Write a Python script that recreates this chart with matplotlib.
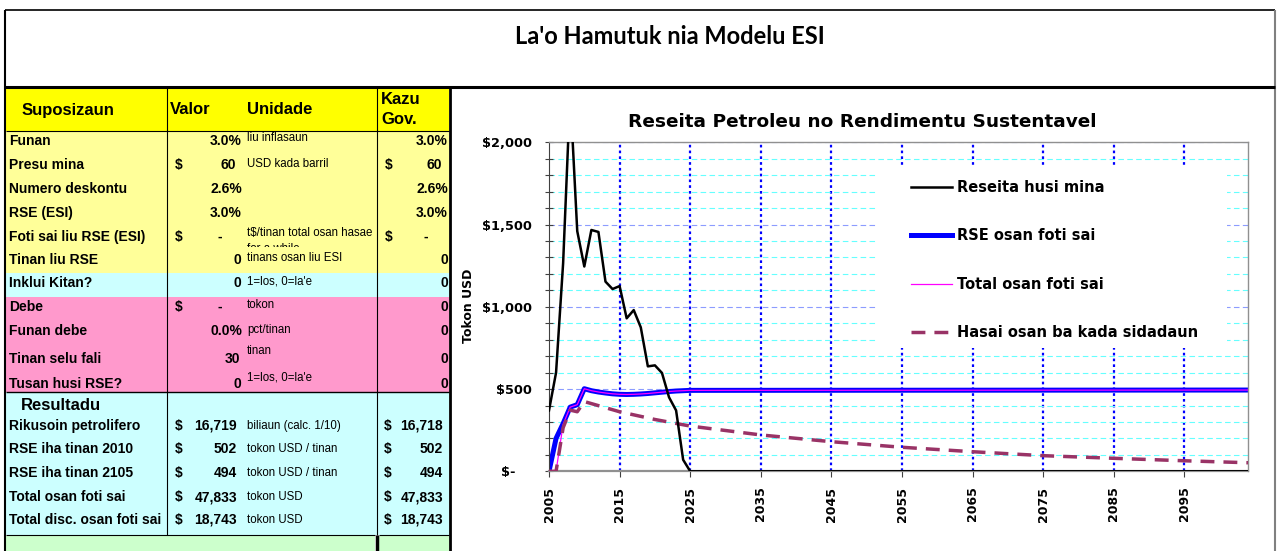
import matplotlib
matplotlib.use("Agg")
import matplotlib.pyplot as plt
from matplotlib.patches import Rectangle
from matplotlib.ticker import MultipleLocator
from matplotlib.transforms import Bbox, TransformedBbox, ScaledTranslation

# ---- chart data ----
mina_years = list(range(2005, 2026)) + [2104]
mina = [370, 600, 1265, 2300, 1460, 1245, 1467, 1455, 1153, 1108, 1126,
        930, 980, 875, 638, 644, 598, 450, 370, 70, 0, 0]

rse_years = list(range(2005, 2026)) + [2104]
rse = [0, 200, 290, 390, 405, 502, 490, 482, 476, 471, 468,
       467, 468, 470, 473, 477, 481, 485, 488, 490, 492, 494]

total_years = list(range(2005, 2026)) + [2104]
total = [0, 0, 285, 390, 405, 502, 490, 482, 476, 471, 468,
         467, 468, 470, 473, 477, 481, 485, 488, 490, 492, 494]

hasai_years = [2005, 2006, 2007, 2008, 2009, 2010, 2015, 2020, 2025, 2035,
               2045, 2055, 2065, 2075, 2085, 2095, 2104]
hasai = [0, 0, 265, 372, 362, 424, 362, 315, 275, 221,
         180, 146, 119, 95, 79, 64, 52]

series_names = ["Reseita husi mina", "RSE osan foti sai",
                "Total osan foti sai", "Hasai osan ba kada sidadaun"]
year_ticks = [2005, 2015, 2025, 2035, 2045, 2055, 2065, 2075, 2085, 2095]
y_ticks = [0, 500, 1000, 1500, 2000]
y_labels = ["$-", "$500", "$1,000", "$1,500", "$2,000"]

# ---- table data ----
input_labels = ["Funan", "Presu mina", "Numero deskontu", "RSE (ESI)",
                "Foti sai liu RSE (ESI)", "Tinan liu RSE", "Inklui Kitan?",
                "Debe", "Funan debe", "Tinan selu fali", "Tusan husi RSE?"]
input_dollar = [False, True, False, False, True, False, False, True, False, False, False]
input_values = ["3.0%", "60", "2.6%", "3.0%", "-", "0", "0", "-", "0.0%", "30", "0"]
input_units = ["liu inflasaun", "USD kada barril", "", "", "t$/tinan total osan hasae",
               "tinans osan liu ESI", "1=los, 0=la'e", "tokon", "pct/tinan", "tinan",
               "1=los, 0=la'e"]
gov_dollar = [False, True, False, False, True, False, False, False, False, False, False]
gov_values = ["3.0%", "60", "2.6%", "3.0%", "-", "0", "0", "0", "0", "0", "0"]

result_labels = ["Rikusoin petrolifero", "RSE iha tinan 2010", "RSE iha tinan 2105",
                 "Total osan foti sai", "Total disc. osan foti sai"]
result_values = ["16,719", "502", "494", "47,833", "18,743"]
result_units = ["biliaun (calc. 1/10)", "tokon USD / tinan", "tokon USD / tinan",
                "tokon USD", "tokon USD"]
result_gov = ["16,718", "502", "494", "47,833", "18,743"]

W, H = 1277, 551
fig = plt.figure(figsize=(W / 100, H / 100), dpi=100)
fig.patch.set_facecolor("white")

# background axes in pixel coords (y down)
bg = fig.add_axes([0, 0, 1, 1])
bg.set_xlim(0, W)
bg.set_ylim(H, 0)
bg.axis("off")

YEL_H = "#FFFF00"
YEL = "#FFFF99"
CYAN = "#CCFFFF"
PINK = "#FF99CC"
GREEN = "#CCFFCC"


def box(x0, y0, x1, y1, color):
    bg.add_patch(Rectangle((x0, y0), x1 - x0, y1 - y0, facecolor=color,
                           edgecolor="none", zorder=1))


def line(x0, y0, x1, y1, lw=1.0, color="black"):
    bg.plot([x0, x1], [y0, y1], color=color, lw=lw, zorder=3,
            solid_capstyle="butt")


# cell fills
box(6, 88, 449, 131, YEL_H)
box(6, 131, 449, 273, YEL)
box(6, 273, 449, 297, CYAN)
box(6, 297, 449, 392, PINK)
box(6, 392, 449, 535, CYAN)
box(6, 536, 375, H, GREEN)
box(379, 536, 449, H, GREEN)

# borders
line(5, 10, 1275, 10, lw=1.2)
line(5, 10, 5, H, lw=1.5)
line(1275, 10, 1275, H, lw=1.5, color="#808080")
line(5, 87, 1275, 87, lw=2.2)
line(450, 87, 450, H, lw=2.0)
line(6, 131, 449, 131, lw=0.8)
line(6, 392, 449, 392, lw=1.0)
line(6, 535, 375, 535, lw=0.8)
line(379, 535, 449, 535, lw=0.8)
line(166.5, 88, 166.5, 535, lw=0.8)
line(377, 88, 377, 535, lw=0.8)
line(377, 535, 377, H, lw=2.5)

# title
bg.text(670, 37, "La'o Hamutuk nia Modelu ESI", ha="center", va="center",
        fontsize=17, fontweight="bold", family="Lato", zorder=4)

# header
hdr = dict(fontsize=12, fontweight="bold", family="Liberation Sans", va="center", zorder=4)
bg.text(22, 110, "Suposizaun", **hdr)
bg.text(170, 110, "Valor", **hdr)
bg.text(247, 110, "Unidade", **hdr)
bg.text(381, 100, "Kazu", **hdr)
bg.text(381, 120, "Gov.", **hdr)

lab = dict(fontsize=10, fontweight="bold", family="Liberation Sans", va="center", zorder=4)
unit = dict(fontsize=8.3, family=["Liberation Sans Narrow", "Liberation Sans"],
            va="center", zorder=4)

row_y = [141, 165, 189, 213, 237, 260, 283, 307, 331, 359, 384]
val_right = [242, 236, 242, 242, 222, 241, 241, 222, 242, 240, 241]
gov_right = [448, 442, 448, 448, 428, 448, 448, 448, 448, 448, 448]
unit_dy = [-3, -1, 0, 0, -4, -2, -1, -2, -1, -8, -7]

for i, name in enumerate(input_labels):
    y = row_y[i]
    bg.text(9, y, name, **lab)
    if input_dollar[i]:
        bg.text(175, y, "$", **lab)
    bg.text(val_right[i], y, input_values[i], ha="right", **lab)
    if input_units[i]:
        bg.text(247, y + unit_dy[i], input_units[i], **unit)
    if gov_dollar[i]:
        bg.text(385, y, "$", **lab)
    bg.text(gov_right[i], y, gov_values[i], ha="right", **lab)

# overflow text cut off by the next row
t = bg.text(247, 249, "for a while", clip_on=True, **unit)
t.set_clip_box(TransformedBbox(Bbox([[244, 226], [374, 247]]), bg.transData))

bg.text(21, 405, "Resultadu", **hdr)
res_y = [426, 449, 473, 497, 520]
runit = dict(fontsize=8.3, family="Liberation Sans", va="center", zorder=4)
for i, name in enumerate(result_labels):
    y = res_y[i]
    bg.text(9, y, name, **lab)
    bg.text(175, y, "$", **lab)
    bg.text(237, y, result_values[i], ha="right", **lab)
    bg.text(247, y, result_units[i], **runit)
    bg.text(384, y, "$", **lab)
    bg.text(443, y, result_gov[i], ha="right", **lab)

# ---- chart ----
L, R, T, B = 549, 1248, 142.3, 471.3
ax = fig.add_axes([L / W, 1 - B / H, (R - L) / W, (B - T) / H])
ax.set_xlim(2005, 2104)
ax.set_ylim(0, 2000)
ax.set_axisbelow(True)

ax.yaxis.set_major_locator(MultipleLocator(500))
ax.yaxis.set_minor_locator(MultipleLocator(100))
ax.set_yticks(y_ticks)
ax.set_yticklabels(y_labels, fontsize=9.3, fontweight="bold")
ax.set_xticks(year_ticks)
ax.set_xticklabels([str(y) for y in year_ticks], rotation=90, fontsize=9,
                   fontweight="bold")
ax.tick_params(axis="y", which="both", direction="inout", length=6, width=0.8,
               color="#404040", pad=9)
ax.tick_params(axis="x", which="major", direction="out", length=4, width=0.8,
               color="#404040", pad=7)

# accounting format: "$-" sits further left
zero_lab = ax.get_yticklabels()[0]
zero_lab.set_transform(zero_lab.get_transform()
                       + ScaledTranslation(-0.17, 0, fig.dpi_scale_trans))

ax.grid(axis="y", which="minor", color="#66FFFF", lw=0.8, linestyle=(0, (5, 3)))
ax.grid(axis="y", which="major", color="#8C9CFF", lw=0.8, linestyle=(0, (5, 3)))
ax.grid(axis="x", which="major", color="#0000FF", lw=1.6, linestyle=(0, (1.2, 1.4)))
ax.get_xgridlines()[0].set_visible(False)

for s in ["top", "right"]:
    ax.spines[s].set_color("#909090")
    ax.spines[s].set_linewidth(1.0)
ax.spines["bottom"].set_color("#909090")
ax.spines["bottom"].set_linewidth(1.6)
ax.spines["left"].set_color("#404040")
ax.spines["left"].set_linewidth(0.8)

# white legend area hides the grid
ax.add_patch(Rectangle((877 / W, 1 - 348 / H), 350 / W, 183 / H,
                       transform=fig.transFigure, facecolor="white",
                       edgecolor="none", zorder=1))

h2, = ax.plot(rse_years, rse, color="#0000FF", lw=3.6, zorder=2)
h3, = ax.plot(total_years, total, color="#FF00FF", lw=0.9, zorder=3)
h4, = ax.plot(hasai_years, hasai, color="#993366", lw=2.5, zorder=3,
              linestyle=(0, (4, 2.6)))
h1, = ax.plot(mina_years, mina, color="black", lw=1.8, zorder=4)

leg = ax.legend([h1, h2, h3, h4], series_names, loc="center left",
                bbox_to_anchor=(904 / W, 1 - 260 / H),
                bbox_transform=fig.transFigure, frameon=False,
                prop=dict(size=10.5, weight="bold"), handlelength=2.8,
                handletextpad=0.34, labelspacing=2.3, borderpad=0)

ax.set_ylabel("Tokon USD", fontsize=9, fontweight="bold")
ax.yaxis.set_label_coords((475 - L) / (R - L), (B - 306) / (B - T))

fig.text(862 / W, 1 - 122 / H, "Reseita Petroleu no Rendimentu Sustentavel",
         ha="center", va="center", fontsize=13.3, fontweight="bold")

fig.savefig("out.png", dpi=100)
